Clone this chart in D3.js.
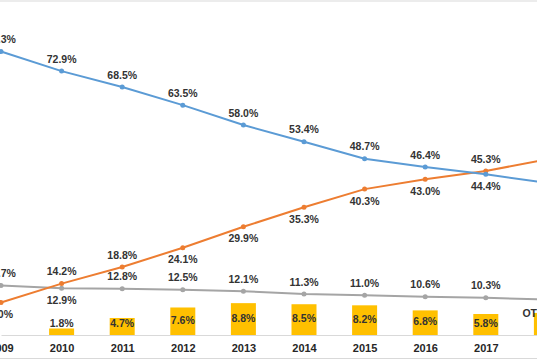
<!DOCTYPE html>
<html>
<head>
<meta charset="utf-8">
<script src="https://cdn.jsdelivr.net/npm/d3@7"></script>
<style>
  body { margin: 0; background: #fff; }
  svg { display: block; }
  text { font-family: "Liberation Sans Narrow", "Liberation Sans", Arial, sans-serif; font-weight: bold; }
</style>
</head>
<body>
<svg id="chart" width="537" height="360"></svg>
<script>
// data
var years = ["2009", "2010", "2011", "2012", "2013", "2014", "2015", "2016", "2017", "2018"];
var blueVals   = [78.3, 72.9, 68.5, 63.5, 58.0, 53.4, 48.7, 46.4, 44.4, 42.0];
var orangeVals = [9.0, 14.2, 18.8, 24.1, 29.9, 35.3, 40.3, 43.0, 45.3, 48.5];
var grayVals   = [13.7, 12.9, 12.8, 12.5, 12.1, 11.3, 11.0, 10.6, 10.3, 9.8];
var barVals    = [null, 1.8, 4.7, 7.6, 8.8, 8.5, 8.2, 6.8, 5.8, 6.1];
// label above (-1) or below (+1) the point
var blueSide   = [-1, -1, -1, -1, -1, -1, -1, -1, 1, -1];
var orangeSide = [1, -1, -1, 1, 1, 1, 1, 1, -1, -1];
var graySide   = [-1, 1, -1, -1, -1, -1, -1, -1, -1, -1];
// the last year runs off the right edge of the picture, its labels are not shown
var shownYears = years.slice(0, 9);

const svg = d3.select("#chart");

const x = d3.scalePoint().domain(years).range([1, 546.4]);
const y = d3.scaleLinear().domain([0, 100]).range([335, -27]);

// frame lines
svg.append("line").attr("x1", 0).attr("x2", 537).attr("y1", 1).attr("y2", 1)
  .attr("stroke", "#d9d9d9").attr("stroke-width", 1);
svg.append("line").attr("x1", 0).attr("x2", 537).attr("y1", 358.5).attr("y2", 358.5)
  .attr("stroke", "#d9d9d9").attr("stroke-width", 1);

// axis
const xAxis = d3.axisBottom(x).tickSize(0).tickPadding(9).tickValues(shownYears);
const ax = svg.append("g").attr("transform", `translate(0,${y(0)})`).call(xAxis);
ax.select(".domain").attr("stroke", "#d9d9d9");
ax.selectAll("text").attr("font-size", 11).attr("fill", "#262626")
  .attr("font-family", null).attr("font-weight", "bold");

// bars
const barW = 25;
const bars = years.map((d, i) => ({ year: d, v: barVals[i] })).filter(d => d.v != null);
svg.selectAll("rect.bar").data(bars).enter().append("rect")
  .attr("class", "bar")
  .attr("x", d => x(d.year) - barW / 2)
  .attr("y", d => y(d.v))
  .attr("width", barW)
  .attr("height", d => y(0) - y(d.v))
  .attr("fill", "#FFC000");
svg.selectAll("text.barlab").data(bars.filter(d => shownYears.includes(d.year))).enter().append("text")
  .attr("class", "barlab")
  .attr("x", d => x(d.year))
  .attr("y", d => Math.min((y(d.v) + y(0)) / 2, 324) - 1)
  .attr("dy", "0.35em")
  .attr("text-anchor", "middle")
  .attr("font-size", 10.5)
  .attr("fill", "#333")
  .text(d => d.v.toFixed(1) + "%");

// partly visible annotation by the 2018 bar
svg.append("text")
  .attr("x", x("2018") - 24).attr("y", y(6.1)).attr("dy", "0.35em")
  .attr("font-size", 10.5).attr("fill", "#333").text("OTT");

function drawSeries(vals, sides, color) {
  const pts = years.map((d, i) => ({ year: d, v: vals[i], s: sides[i] }));
  const line = d3.line().x(d => x(d.year)).y(d => y(d.v));
  svg.append("path").datum(pts)
    .attr("d", line)
    .attr("fill", "none")
    .attr("stroke", color)
    .attr("stroke-width", 2);
  svg.selectAll(null).data(pts).enter().append("circle")
    .attr("cx", d => x(d.year))
    .attr("cy", d => y(d.v))
    .attr("r", 2.5)
    .attr("fill", color);
  svg.selectAll(null).data(pts.filter(d => shownYears.includes(d.year))).enter().append("text")
    .attr("x", d => x(d.year))
    .attr("y", d => y(d.v) + d.s * 12)
    .attr("dy", "0.35em")
    .attr("text-anchor", "middle")
    .attr("font-size", 10.5)
    .attr("fill", "#333")
    .text(d => d.v.toFixed(1) + "%");
}

drawSeries(grayVals, graySide, "#A5A5A5");
drawSeries(orangeVals, orangeSide, "#ED7D31");
drawSeries(blueVals, blueSide, "#5B9BD5");
</script>
</body>
</html>
